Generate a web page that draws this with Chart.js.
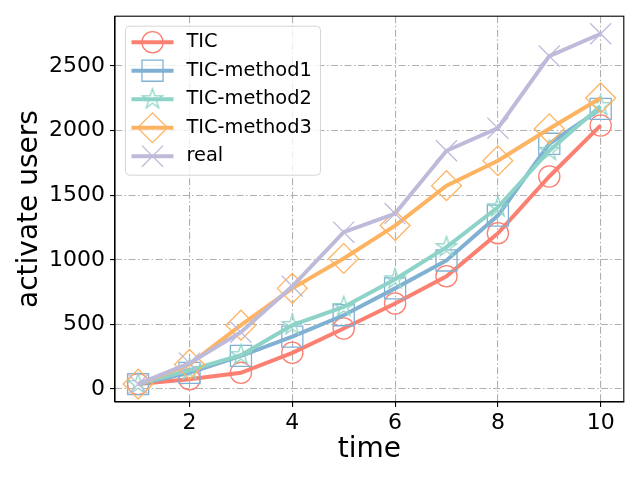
<!DOCTYPE html>
<html><head><meta charset="utf-8">
<script src="https://cdn.jsdelivr.net/npm/chart.js@4/dist/chart.umd.min.js"></script>
<style>html,body{margin:0;padding:0;background:#fff;} #wrap{width:640px;height:480px;}</style>
</head><body><div id="wrap"><canvas id="c" width="640" height="480"></canvas></div>
<script>
const xValues = [1, 2, 3, 4, 5, 6, 7, 8, 9, 10];
const ticValues = [38, 75, 125, 280, 468, 662, 873, 1205, 1645, 2040];
const method1Values = [38, 125, 256, 405, 571, 779, 995, 1342, 1898, 2168];
const method2Values = [38, 145, 262, 494, 635, 849, 1098, 1407, 1844, 2190];
const method3Values = [38, 190, 494, 779, 1010, 1265, 1574, 1767, 2014, 2253];
const realValues = [38, 200, 440, 795, 1214, 1358, 1844, 2019, 2577, 2750];
const seriesNames = ['TIC', 'TIC-method1', 'TIC-method2', 'TIC-method3', 'real'];
const xTicks = [2, 4, 6, 8, 10];
const yTicks = [0, 500, 1000, 1500, 2000, 2500];
const xTitle = 'time';
const yTitle = 'activate users';

const colors = ['#fb8072', '#80b1d3', '#8dd3c7', '#fdb462', '#bebada'];

function makeStar(color) {
  const c = document.createElement('canvas');
  c.width = 26; c.height = 26;
  const g = c.getContext('2d');
  const cx = 13, cy = 13, R = 10.6, r = R * 0.381966;
  g.beginPath();
  for (let i = 0; i < 10; i++) {
    const a = -Math.PI / 2 + i * Math.PI / 5;
    const rr = i % 2 === 0 ? R : r;
    const px = cx + rr * Math.cos(a), py = cy + rr * Math.sin(a);
    if (i === 0) g.moveTo(px, py); else g.lineTo(px, py);
  }
  g.closePath();
  g.strokeStyle = color; g.lineWidth = 1.3; g.lineJoin = 'miter';
  g.stroke();
  return c;
}

const allValues = [ticValues, method1Values, method2Values, method3Values, realValues];
const styles = ['circle', 'rect', makeStar(colors[2]), 'rectRot', 'crossRot'];
const radii = [10.6, 14.9, 10.6, 14.9, 14.9];

const datasets = allValues.map((vals, i) => ({
  label: seriesNames[i],
  data: xValues.map((x, j) => ({ x: x, y: vals[j] })),
  borderColor: colors[i],
  backgroundColor: 'rgba(0,0,0,0)',
  borderWidth: 4,
  pointStyle: styles[i],
  pointRadius: radii[i],
  pointHoverRadius: radii[i],
  pointBorderColor: colors[i],
  pointBackgroundColor: 'rgba(0,0,0,0)',
  pointBorderWidth: 1.3,
  tension: 0,
  order: 4 - i,
  clip: false
}));

const font = 'DejaVu Sans';

const boxPlugin = {
  id: 'box',
  afterDraw(chart) {
    const { ctx, chartArea: ca } = chart;
    ctx.save();
    ctx.strokeStyle = '#000';
    ctx.lineWidth = 1.1;
    ctx.strokeRect(ca.left, ca.top, ca.right - ca.left, ca.bottom - ca.top);
    // legend
    const bx = ca.left + 10.5, by = ca.top + 10, bw = 195, bh = 149, rad = 4;
    ctx.beginPath();
    ctx.moveTo(bx + rad, by);
    ctx.arcTo(bx + bw, by, bx + bw, by + bh, rad);
    ctx.arcTo(bx + bw, by + bh, bx, by + bh, rad);
    ctx.arcTo(bx, by + bh, bx, by, rad);
    ctx.arcTo(bx, by, bx + bw, by, rad);
    ctx.closePath();
    ctx.fillStyle = 'rgba(255,255,255,0.8)';
    ctx.fill();
    ctx.strokeStyle = '#d6d6d6';
    ctx.lineWidth = 1;
    ctx.stroke();
    chart.data.datasets.forEach((ds, i) => {
      const y = by + 16 + i * 28.5;
      ctx.beginPath();
      ctx.strokeStyle = ds.borderColor;
      ctx.lineWidth = 4;
      ctx.moveTo(bx + 6, y);
      ctx.lineTo(bx + 48, y);
      ctx.stroke();
      ctx.fillStyle = 'rgba(0,0,0,0)';
      ctx.strokeStyle = ds.pointBorderColor;
      ctx.lineWidth = ds.pointBorderWidth;
      Chart.helpers.drawPoint(ctx, { pointStyle: ds.pointStyle, radius: ds.pointRadius, borderWidth: ds.pointBorderWidth, rotation: 0 }, bx + 27, y);
      ctx.fillStyle = '#000';
      ctx.font = '19.4px "' + font + '"';
      ctx.textBaseline = 'middle';
      ctx.textAlign = 'left';
      ctx.fillText(ds.label, bx + 61, y);
    });
    ctx.restore();
  }
};

new Chart(document.getElementById('c'), {
  type: 'line',
  data: { datasets: datasets },
  options: {
    responsive: false,
    animation: false,
    devicePixelRatio: 1,
    layout: { padding: { top: 15, right: 12, left: 0, bottom: 0 } },
    plugins: { legend: { display: false }, tooltip: { enabled: false } },
    scales: {
      x: {
        type: 'linear',
        min: 0.55, max: 10.45,
        afterBuildTicks: s => { s.ticks = xTicks.map(v => ({ value: v })); },
        afterFit: s => { s.height = 78; s.paddingLeft = 0; s.paddingRight = 0; },
        grid: { color: '#b0b0b0', lineWidth: 1.1, tickColor: '#000', tickLength: 5, tickWidth: 1.1 },
        border: { display: true, color: '#000', width: 1.1, dash: [7, 2.5, 1.5, 2.5] },
        ticks: { color: '#000', font: { family: font, size: 22 }, padding: 3, maxRotation: 0, autoSkip: false, callback: v => String(v) },
        title: { display: true, text: xTitle, color: '#000', font: { family: font, size: 28 }, padding: { top: 0, bottom: 13 } }
      },
      y: {
        type: 'linear',
        min: -100.75, max: 2885.75,
        afterBuildTicks: s => { s.ticks = yTicks.map(v => ({ value: v })); },
        afterFit: s => { s.width = 115; s.paddingTop = 0; s.paddingBottom = 0; },
        grid: { color: '#b0b0b0', lineWidth: 1.1, tickColor: '#000', tickLength: 5, tickWidth: 1.1 },
        border: { display: true, color: '#000', width: 1.1, dash: [7, 2.5, 1.5, 2.5] },
        ticks: { color: '#000', font: { family: font, size: 22 }, padding: 5, autoSkip: false, callback: v => String(v) },
        title: { display: true, text: yTitle, color: '#000', font: { family: font, size: 28 }, padding: { top: 13, bottom: 0 } }
      }
    }
  },
  plugins: [boxPlugin]
});
</script>
</body></html>
